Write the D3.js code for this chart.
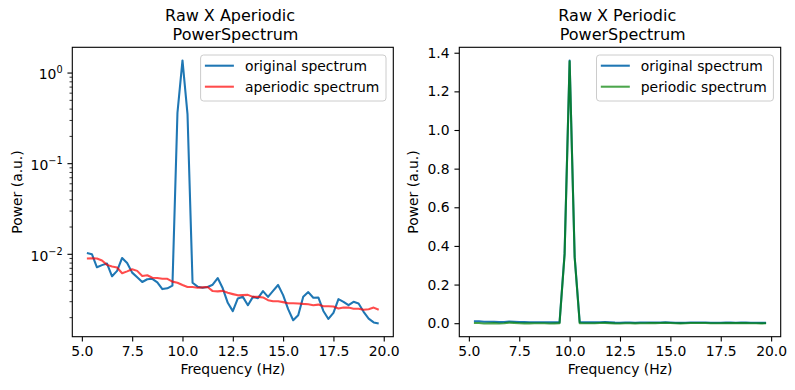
<!DOCTYPE html>
<html><head><meta charset="utf-8">
<script src="https://cdn.jsdelivr.net/npm/d3@7"></script>
<style>body{margin:0;background:#fff} svg{font-family:"DejaVu Sans",sans-serif;display:block}</style>
</head><body><svg id="c" width="795" height="390"></svg>
<script>
const freqs=[5.25,5.5,5.75,6,6.25,6.5,6.75,7,7.25,7.5,7.75,8,8.25,8.5,8.75,9,9.25,9.5,9.75,10,10.25,10.5,10.75,11,11.25,11.5,11.75,12,12.25,12.5,12.75,13,13.25,13.5,13.75,14,14.25,14.5,14.75,15,15.25,15.5,15.75,16,16.25,16.5,16.75,17,17.25,17.5,17.75,18,18.25,18.5,18.75,19,19.25,19.5,19.75];
const original=[0.0102,0.0099,0.0071,0.0075,0.0078,0.00565,0.00648,0.0090,0.0079,0.0062,0.0055,0.00489,0.00524,0.0053,0.00484,0.00408,0.00416,0.00445,0.36,1.36,0.345,0.0048,0.00434,0.00423,0.0043,0.00456,0.0054,0.00416,0.00288,0.00233,0.00322,0.00335,0.00271,0.00335,0.00324,0.00388,0.00335,0.0039,0.00453,0.0035,0.00245,0.00185,0.0021,0.00335,0.00378,0.00327,0.0033,0.00234,0.00191,0.00223,0.00316,0.00295,0.00271,0.00295,0.00283,0.00229,0.00193,0.00175,0.0017];
const aperiodic=[0.00887,0.0089,0.00887,0.00843,0.00755,0.00723,0.00705,0.0061,0.0064,0.00676,0.00648,0.0057,0.0058,0.00545,0.0054,0.0053,0.0053,0.00493,0.0048,0.00453,0.0043,0.0043,0.00423,0.00426,0.0043,0.00388,0.00385,0.0039,0.00371,0.00359,0.00348,0.0035,0.00352,0.00335,0.00335,0.0033,0.00308,0.0030,0.0030,0.00293,0.00285,0.00285,0.00283,0.0028,0.00278,0.00271,0.00275,0.00264,0.00264,0.00262,0.00249,0.00255,0.00255,0.00248,0.00248,0.00241,0.00245,0.00255,0.00241];
const periodic=[0.0013,0.001,-0.0018,-0.0009,0.0003,-0.0016,-0.0006,0.0029,0.0015,-0.0006,-0.001,-0.0008,-0.0006,-0.0002,-0.0006,-0.0012,-0.0011,-0.0005,0.355,1.3555,0.3407,0.0005,0.0001,0,0,0.0007,0.0016,0.0003,-0.0008,-0.0013,-0.0003,-0.0002,-0.0008,0,-0.0001,0.0006,0.0003,0.0009,0.0015,0.0006,-0.0004,-0.001,-0.0007,0.0006,0.001,0.0006,0.0006,-0.0003,-0.0007,-0.0004,0.0007,0.0004,0.0002,0.0005,0.0004,-0.0001,-0.0005,-0.0008,-0.0007];
const xTicks=[5,7.5,10,12.5,15,17.5,20];
const leftYTicks=[0.01,0.1,1];
const rightYTicks=[0,0.2,0.4,0.6,0.8,1.0,1.2,1.4];
const titles=[["Raw X Aperiodic","PowerSpectrum"],["Raw X Periodic","PowerSpectrum"]];
const legendLeft=["original spectrum","aperiodic spectrum"];
const legendRight=["original spectrum","periodic spectrum"];

const svg=d3.select("#c");
const BLUE="#1f77b4";
const LW=2.08, TICK=4.86, MINOR=2.78, PAD=4.86, FS=13.9;

function padExt(arr,log){
  let lo=d3.min(arr),hi=d3.max(arr);
  if(log){lo=Math.log10(lo);hi=Math.log10(hi);}
  const m=(hi-lo)*0.05; lo-=m; hi+=m;
  return log?[Math.pow(10,lo),Math.pow(10,hi)]:[lo,hi];
}

function panel(box,cfg){
  const g=svg.append("g");
  const x=d3.scaleLinear().domain(padExt(freqs,false)).range([box.x0,box.x1]);
  const y=(cfg.log?d3.scaleLog():d3.scaleLinear()).domain(cfg.ydom).range([box.y1,box.y0]);
  cfg.series.forEach(s=>{
    g.append("path").datum(s.values)
      .attr("d",d3.line().x((d,i)=>x(freqs[i])).y(d=>y(d)))
      .attr("fill","none").attr("stroke",s.color).attr("stroke-opacity",s.op)
      .attr("stroke-width",LW).attr("stroke-linejoin","round").attr("stroke-linecap","butt");
  });
  const xa=g.append("g").attr("transform",`translate(0,${box.y1})`)
    .call(d3.axisBottom(x).tickValues(xTicks).tickSize(TICK).tickPadding(PAD).tickFormat(d3.format(".1f")));
  xa.select(".domain").remove();
  xa.selectAll("line").attr("stroke","#000").attr("stroke-width",1.1);
  xa.selectAll("text").attr("font-size",FS).attr("fill","#000").attr("font-family","DejaVu Sans");
  if(cfg.log){
    const lo=cfg.ydom[0],hi=cfg.ydom[1];
    const minors=[];
    [-3,-2,-1,0].forEach(k=>{for(let m=2;m<=9;m++){const v=m*Math.pow(10,k);if(v>=lo&&v<=hi)minors.push(v);}});
    const ym=g.append("g").attr("transform",`translate(${box.x0},0)`)
      .call(d3.axisLeft(y).tickValues(minors).tickSize(MINOR).tickFormat(""));
    ym.select(".domain").remove();
    ym.selectAll("line").attr("stroke","#000").attr("stroke-width",0.8);
    const ya=g.append("g").attr("transform",`translate(${box.x0},0)`)
      .call(d3.axisLeft(y).tickValues(leftYTicks).tickSize(TICK).tickPadding(PAD).tickFormat(""));
    ya.select(".domain").remove();
    ya.selectAll("line").attr("stroke","#000").attr("stroke-width",1.1);
    ya.selectAll(".tick").each(function(d){
      const e=Math.round(Math.log10(d));
      const t=d3.select(this).append("text").attr("x",-(TICK+PAD)).attr("y",0).attr("dy","0.45em")
        .attr("text-anchor","end").attr("font-size",FS).attr("fill","#000").attr("font-family","DejaVu Sans");
      t.append("tspan").text("10");
      t.append("tspan").attr("font-size",FS*0.7).attr("dy","-0.6em").text(e<0?"\u2212"+(-e):String(e));
    });
  } else {
    const ya=g.append("g").attr("transform",`translate(${box.x0},0)`)
      .call(d3.axisLeft(y).tickValues(rightYTicks).tickSize(TICK).tickPadding(PAD).tickFormat(d3.format(".1f")));
    ya.select(".domain").remove();
    ya.selectAll("line").attr("stroke","#000").attr("stroke-width",1.1);
    ya.selectAll("text").attr("font-size",FS).attr("fill","#000").attr("font-family","DejaVu Sans");
  }
  g.append("rect").attr("x",box.x0).attr("y",box.y0).attr("width",box.x1-box.x0).attr("height",box.y1-box.y0)
    .attr("fill","none").attr("stroke","#000").attr("stroke-width",1.1);
  const cx=(box.x0+box.x1)/2;
  const tt=g.append("text").attr("text-anchor","middle").attr("font-size",16).attr("fill","#000");
  tt.append("tspan").attr("x",cx-2.7).attr("y",20.8).text(cfg.title[0]);
  tt.append("tspan").attr("x",cx+2.7).attr("y",39.6).text(cfg.title[1]);
  g.append("text").attr("x",cx).attr("y",373.5).attr("text-anchor","middle").attr("font-size",FS).attr("fill","#000").text("Frequency (Hz)");
  g.append("text").attr("transform",`translate(${cfg.ylabX},${(box.y0+box.y1)/2}) rotate(-90)`)
    .attr("text-anchor","middle").attr("font-size",FS).attr("fill","#000").text("Power (a.u.)");
  const lg=g.append("g");
  const texts=cfg.series.map((s,i)=>lg.append("text").attr("font-size",FS).attr("fill","#000").text(cfg.legend[i]));
  const tw=d3.max(texts,t=>t.node().getComputedTextLength());
  const right=box.x1-7.3, top=box.y0+7.7;
  const w=44.3+tw+6.7, left=right-w;
  lg.insert("rect",":first-child").attr("x",left).attr("y",top).attr("width",w).attr("height",46)
    .attr("rx",3).attr("fill","#fff").attr("fill-opacity",0.8).attr("stroke","#cccccc").attr("stroke-width",1);
  cfg.series.forEach((s,i)=>{
    const ly=top+10.7+21*i;
    lg.append("line").attr("x1",left+4.3).attr("x2",left+33.3).attr("y1",ly).attr("y2",ly)
      .attr("stroke",s.color).attr("stroke-opacity",s.op).attr("stroke-width",LW);
    texts[i].attr("x",left+44.3).attr("y",ly+5);
  });
}

panel({x0:72.3,x1:393.3,y0:47.3,y1:336.7},{
  log:true, ydom:padExt(original.concat(aperiodic),true), title:titles[0], legend:legendLeft, ylabX:21.8,
  series:[{values:original,color:BLUE,op:1},{values:aperiodic,color:"#ff0000",op:0.7}]
});
panel({x0:459.3,x1:780.7,y0:47.3,y1:336.7},{
  log:false, ydom:padExt(original.concat(periodic),false), title:titles[1], legend:legendRight, ylabX:417.8,
  series:[{values:original,color:BLUE,op:1},{values:periodic,color:"#008000",op:0.7}]
});
</script></body></html>
